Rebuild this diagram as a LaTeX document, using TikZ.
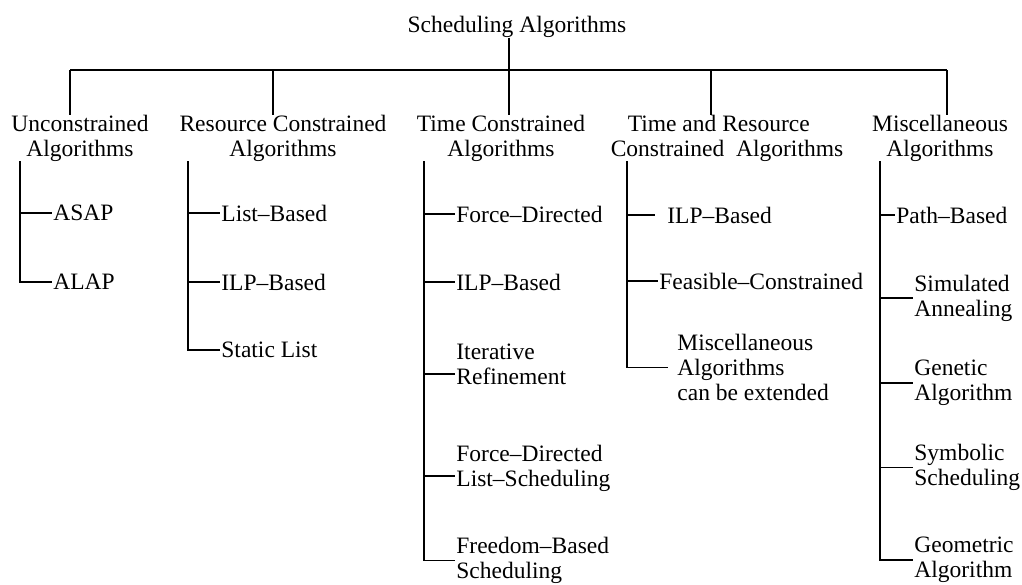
\documentclass[tikz,border=0pt]{standalone}
\usepackage{fontspec}
\setmainfont{Liberation Serif}
\usepackage{tikz}

\begin{document}
\begin{tikzpicture}[
  x=0.5pt, y=-0.5pt,
  every node/.style={font=\fontsize{11.75}{12.4}\selectfont},
  head/.style={align=center, inner sep=0pt},
  leaf/.style={align=left, anchor=west, inner xsep=0.5pt, inner ysep=0pt},
  line/.style={line width=0.6pt}
]
\useasboundingbox (0,0) rectangle (1022,584);

% root and the bar
\node[inner sep=0pt] (root) at (517,26.5) {Scheduling Algorithms};
\coordinate (bar1) at (70,70);
\coordinate (bar2) at (273,70);
\coordinate (bar3) at (509,70);
\coordinate (bar4) at (711,70);
\coordinate (bar5) at (947,70);

% second level
\node[head] (uncon) at (80,138) {Unconstrained\\Algorithms};
\node[head] (res) at (283,138) {Resource Constrained\\Algorithms};
\node[head] (tc) at (501,138) {Time Constrained\\Algorithms};
\node[head] (tr) at (727,138) {Time and Resource\hspace*{0.7em}\\Constrained\ \ Algorithms};
\node[head] (misc) at (940,138) {Miscellaneous\\Algorithms};

\draw[line] (bar1) -- (bar5);
\draw[line] (bar3 |- root.south) -- (bar3 |- tc.north);
\draw[line] (bar1) -- (bar1 |- uncon.north);
\draw[line] (bar2) -- (bar2 |- res.north);
\draw[line] (bar4) -- (bar4 |- tr.north);
\draw[line] (bar5) -- (bar5 |- misc.north);

% columns of the leaves
\coordinate (ucol) at (20,0);
\coordinate (rcol) at (188,0);
\coordinate (tcol) at (424,0);
\coordinate (trcol) at (627,0);
\coordinate (mcol) at (880,0);

% unconstrained
\node[leaf] (asap) at (52,213) {ASAP};
\node[leaf] (alap) at (52,282) {ALAP};
\draw[line] (ucol |- uncon.south) -- (ucol |- alap.west) -- (alap.west);
\draw[line] (ucol |- asap.west) -- (asap.west);

% resource constrained
\node[leaf] (listb) at (220,213) {List--Based};
\node[leaf] (ilpr) at (220,282) {ILP--Based};
\node[leaf] (slist) at (220,350) {Static List};
\draw[line] (rcol |- res.south) -- (rcol |- slist.west) -- (slist.west);
\draw[line] (rcol |- listb.west) -- (listb.west);
\draw[line] (rcol |- ilpr.west) -- (ilpr.west);

% time constrained
\node[leaf] (fd) at (455,214) {Force--Directed};
\node[leaf] (ilpt) at (455,282) {ILP--Based};
\node[leaf] (iter) at (455,364.5) {Iterative\\Refinement};
\node[leaf] (fdls) at (455,468) {Force--Directed\\List--Scheduling};
\node[leaf] (free) at (455,560.5) {Freedom--Based\\Scheduling};
\coordinate (iterb) at ([yshift=-4.75pt]iter.west);
\coordinate (fdlsb) at ([yshift=-4pt]fdls.west);
\draw[line] (tcol |- tc.south) -- (tcol |- free.west) -- (free.west);
\draw[line] (tcol |- fd.west) -- (fd.west);
\draw[line] (tcol |- ilpt.west) -- (ilpt.west);
\draw[line] (tcol |- iterb) -- (iterb);
\draw[line] (tcol |- fdlsb) -- (fdlsb);

% time and resource constrained
\node[leaf, inner xsep=6pt] (ilptr) at (655,215) {ILP--Based};
\node[leaf] (feas) at (658,281) {Feasible--Constrained};
\node[leaf, inner xsep=4.5pt] (mext) at (668,367.5) {Miscellaneous\\Algorithms\\can be extended};
\draw[line] (trcol |- tr.south) -- (trcol |- mext.west) -- (mext.west);
\draw[line] (trcol |- ilptr.west) -- (ilptr.west);
\draw[line] (trcol |- feas.west) -- (feas.west);

% miscellaneous
\node[leaf] (path) at (895,215) {Path--Based};
\node[leaf] (sa) at (913,298) {Simulated\\Annealing};
\node[leaf] (ga) at (913,383) {Genetic\\Algorithm};
\node[leaf] (ss) at (913,467.5) {Symbolic\\Scheduling};
\node[leaf] (geo) at (913,560) {Geometric\\Algorithm};
\draw[line] (mcol |- misc.south) -- (mcol |- geo.west) -- (geo.west);
\draw[line] (mcol |- path.west) -- (path.west);
\draw[line] (mcol |- sa.west) -- (sa.west);
\draw[line] (mcol |- ga.west) -- (ga.west);
\draw[line] (mcol |- ss.west) -- (ss.west);
\end{tikzpicture}
\end{document}
